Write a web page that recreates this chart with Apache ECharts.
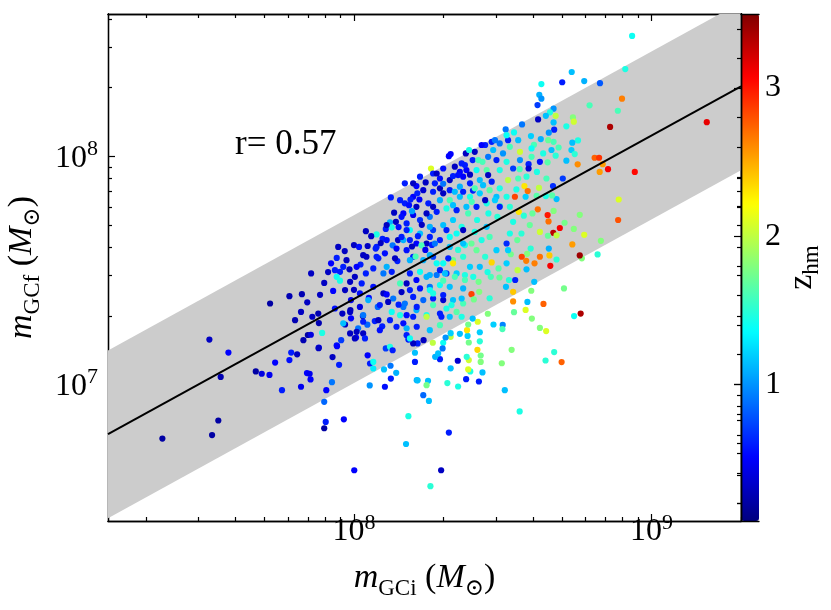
<!DOCTYPE html>
<html>
<head>
<meta charset="utf-8">
<script src="https://cdn.jsdelivr.net/npm/echarts@6.0.0/dist/echarts.min.js"></script>
<style>
  html, body { margin: 0; padding: 0; background: #fff; }
  #main { width: 831px; height: 610px; }
</style>
</head>
<body>
<div id="main"></div>
<script>
// log10 of initial GC mass, final GC mass, and half-mass redshift
const logMi = [
  7.356, 7.514, 7.523, 7.544, 7.578, 7.552, 7.670, 7.690, 7.716, 7.735,
  7.718, 7.758, 7.783, 7.789, 7.802, 7.809, 7.822, 7.822, 7.830, 7.842,
  7.845, 7.854, 7.851, 7.855, 7.860, 7.882, 7.882, 7.893, 7.907, 7.900,
  7.905, 7.900, 7.928, 7.926, 7.942, 7.950, 7.957, 7.966, 8.001, 7.970,
  7.987, 7.961, 7.988, 8.031, 8.007, 8.014, 8.037, 8.046, 8.054, 8.065,
  8.065, 8.053, 8.101, 8.104, 8.124, 8.123, 8.142, 8.183, 8.175, 8.107,
  8.121, 8.130, 8.211, 7.783, 7.825, 7.843, 7.886, 7.880, 7.881, 7.943,
  8.045, 8.070, 8.030, 7.990, 8.762, 8.740, 8.698, 8.673, 8.644, 8.646,
  8.625, 8.598, 8.577, 8.583, 8.637, 8.535, 8.538, 8.530, 8.497, 8.557,
  8.507, 8.500, 8.499, 8.469, 8.450, 8.432, 8.426, 8.426, 8.423, 8.423,
  8.416, 8.415, 8.420, 8.391, 8.384, 8.386, 8.379, 8.386, 8.382, 8.380,
  8.384, 8.377, 8.349, 8.356, 8.350, 8.314, 8.325, 8.319, 8.293, 8.257,
  8.252, 8.233, 8.249, 8.244, 8.214, 8.289, 8.273, 8.300, 8.298, 8.283,
  8.265, 8.325, 8.308, 8.325, 8.234, 8.214, 8.205, 8.205, 8.183, 8.399,
  8.706, 8.596, 8.606, 8.830, 8.819, 8.766, 8.759, 8.734, 8.774, 8.739,
  8.759, 8.671, 8.651, 8.618, 8.654, 8.708, 8.670, 8.692, 8.681, 8.652,
  8.888, 8.655, 8.681, 8.660, 8.657, 8.625, 8.607, 8.582, 8.594, 8.564,
  8.579, 8.527, 8.550, 8.580, 8.542, 8.521, 8.489, 8.460, 8.511, 8.535,
  8.456, 8.421, 8.395, 8.403, 8.419, 8.449, 8.463, 8.486, 8.513, 8.518,
  8.549, 8.563, 8.524, 8.513, 8.479, 8.441, 8.412, 8.535, 8.591, 8.625,
  8.571, 8.554, 8.600, 8.482, 8.452, 8.491, 8.414, 8.166, 8.199, 8.177,
  8.222, 8.255, 8.266, 8.300, 8.333, 8.362, 8.322, 8.289, 8.244, 8.210,
  8.177, 8.199, 8.233, 8.266, 8.300, 8.333, 8.367, 8.390, 8.345, 8.311,
  8.278, 8.244, 8.210, 8.177, 8.188, 8.222, 8.255, 8.289, 8.322, 8.367,
  8.199, 8.233, 8.266, 8.300, 8.333, 8.367, 8.166, 8.210, 8.244, 8.289,
  8.322, 8.294, 8.166, 8.177, 8.199, 8.732, 8.700, 8.774, 8.827, 8.630,
  8.623, 8.630, 8.617, 8.792, 8.887, 8.671, 8.659, 8.678, 8.645, 8.619,
  8.671, 8.736, 8.739, 8.861, 8.714, 8.673, 8.655, 8.565, 8.510, 8.538,
  8.595, 8.628, 8.671, 8.653, 8.753, 8.734, 8.605, 8.688, 8.558, 8.731,
  8.742, 8.809, 8.824, 8.836, 8.854, 8.826, 8.752, 8.678, 8.714, 8.625,
  8.651, 8.587, 8.587, 8.615, 8.702, 8.647, 8.669, 8.622, 8.573, 8.584,
  8.577, 8.614, 8.645, 8.681, 8.666, 8.541, 8.546, 8.580, 8.552, 8.518,
  8.490, 8.557, 8.535, 8.513, 8.479, 8.501, 8.468, 8.490, 8.518, 8.524,
  8.463, 8.441, 8.406, 8.432, 8.399, 8.376, 8.387, 8.319, 8.325, 8.259,
  8.241, 8.266, 8.289, 8.322, 8.356, 8.378, 8.412, 8.446, 8.451, 8.423,
  8.390, 8.356, 8.322, 8.289, 8.266, 8.233, 8.199, 8.171, 8.210, 8.250,
  8.289, 8.322, 8.356, 8.390, 8.423, 8.456, 8.490, 8.479, 8.513, 8.446,
  8.412, 8.378, 8.345, 8.311, 8.278, 8.244, 8.490, 8.524, 8.373, 8.935,
  8.912, 8.901, 9.186, 8.944, 8.890, 8.124, 8.213, 8.190, 8.220, 8.185,
  8.135, 8.160, 8.195, 8.121, 8.141, 8.150, 8.107, 8.127, 8.076, 8.058,
  8.040, 8.096, 8.110, 8.148, 8.188, 8.188, 8.228, 8.255, 8.311, 8.345,
  8.367, 8.222, 8.255, 8.000, 8.046, 8.017, 8.076, 8.195, 8.227, 7.856,
  7.942, 7.923, 7.969, 7.975, 8.022, 8.042, 8.073, 8.082, 8.104, 8.130,
  8.177, 8.166, 8.207, 8.146, 8.110, 8.065, 8.040, 8.003, 7.953, 7.913,
  7.942, 8.143, 8.240, 8.262, 8.255, 8.317, 8.350, 8.333, 7.936, 7.985,
  8.099, 8.127, 8.188, 8.222, 8.255, 8.289, 8.155, 7.987, 8.026, 8.065,
  8.099, 8.132, 8.160, 8.255, 8.300, 8.266, 8.311, 8.345, 8.244, 8.199,
  8.155, 8.127, 8.121, 8.082, 8.095, 8.031, 7.964, 8.009, 8.143, 8.177,
  8.188, 8.003, 7.900, 7.930, 7.953, 7.964, 8.009, 8.090, 8.110, 8.155,
  8.215, 8.020, 8.080, 8.150, 8.110, 8.050, 7.990, 8.000, 8.333, 8.350,
  8.367, 8.171, 8.210, 8.300, 8.390, 8.400,
  7.970, 8.020, 8.048, 8.087, 8.115, 8.171, 8.211, 7.936, 7.987, 8.031,
  8.087, 8.211, 8.255, 8.289, 8.362, 8.328, 8.362, 8.373, 8.339, 8.306,
  8.278, 8.188, 8.138, 8.076, 8.031, 7.947, 8.272, 8.322, 8.373, 8.272,
  8.300, 8.339, 8.367, 8.406, 8.434, 8.463, 8.474, 8.441, 8.396, 8.333,
  8.266, 8.418, 8.451, 8.429, 8.474, 8.513, 8.362, 8.339, 8.300, 8.278,
  8.222, 8.199, 8.558, 8.597, 8.636, 8.664, 8.597, 8.552, 8.160, 8.395,
  8.429, 8.456, 8.446, 8.406, 8.384, 8.367, 8.401, 8.373, 8.423, 8.266,
  8.300, 8.177
];
const logMf = [
  6.763, 7.197, 6.778, 6.842, 7.140, 7.033, 7.057, 7.047, 7.042, 7.096,
  7.355, 6.975, 7.107, 7.140, 7.282, 7.132, 6.990, 7.318, 7.194, 7.050,
  7.217, 7.022, 7.047, 7.218, 7.297, 7.269, 7.162, 7.226, 6.975, 6.924,
  6.836, 6.808, 7.120, 7.010, 7.172, 7.086, 7.194, 6.847, 6.624, 7.263,
  7.224, 7.311, 7.326, 7.224, 7.206, 7.246, 7.202, 7.128, 7.092, 7.099,
  7.070, 6.996, 7.066, 6.990, 7.026, 7.082, 7.051, 6.861, 6.739, 7.158,
  7.165, 7.150, 7.019, 7.387, 7.396, 7.360, 7.393, 7.311, 7.159, 7.168,
  7.262, 7.278, 7.300, 7.290, 7.311, 7.300, 7.098, 7.142, 7.105, 7.234,
  7.248, 7.289, 7.327, 7.362, 7.353, 7.364, 7.317, 7.152, 7.093, 6.882,
  6.975, 7.261, 7.243, 7.263, 7.310, 7.053, 7.099, 7.127, 7.189, 7.229,
  7.275, 7.152, 7.013, 7.057, 7.066, 7.107, 7.121, 7.184, 7.213, 7.238,
  7.263, 7.023, 7.104, 7.222, 6.991, 7.006, 7.071, 6.789, 6.624, 6.554,
  6.928, 6.953, 7.016, 6.997, 7.018, 7.111, 7.121, 7.183, 7.158, 7.136,
  7.183, 7.209, 7.206, 7.225, 7.194, 7.180, 7.099, 7.139, 7.197, 7.289,
  7.421, 7.411, 7.450, 7.630, 7.570, 7.553, 7.566, 7.614, 7.656, 7.682,
  7.744, 7.761, 7.743, 7.768, 7.715, 7.709, 7.665, 7.686, 7.654, 7.652,
  7.721, 7.596, 7.548, 7.520, 7.566, 7.560, 7.531, 7.573, 7.596, 7.560,
  7.542, 7.571, 7.501, 7.505, 7.458, 7.458, 7.469, 7.472, 7.428, 7.406,
  7.378, 7.406, 7.396, 7.373, 7.450, 7.493, 7.535, 7.509, 7.531, 7.589,
  7.633, 7.662, 7.662, 7.618, 7.589, 7.560, 7.589, 7.713, 7.699, 7.669,
  7.740, 7.757, 7.750, 7.735, 7.750, 7.782, 7.721, 7.750, 7.743, 7.706,
  7.721, 7.735, 7.677, 7.699, 7.721, 7.691, 7.647, 7.633, 7.618, 7.618,
  7.589, 7.560, 7.545, 7.560, 7.531, 7.545, 7.560, 7.516, 7.487, 7.487,
  7.480, 7.472, 7.458, 7.443, 7.414, 7.421, 7.428, 7.436, 7.428, 7.421,
  7.384, 7.370, 7.377, 7.370, 7.370, 7.355, 7.340, 7.326, 7.304, 7.311,
  7.297, 7.297, 7.268, 7.216, 7.180, 8.370, 8.325, 8.330, 8.321, 8.317,
  8.270, 8.253, 8.225, 8.224, 8.200, 8.209, 8.193, 8.178, 8.178, 8.162,
  8.149, 8.171, 8.152, 8.129, 8.132, 8.117, 8.104, 8.140, 8.118, 8.105,
  8.089, 8.076, 8.064, 8.071, 8.070, 8.060, 8.051, 8.039, 8.020, 8.028,
  8.010, 7.994, 7.994, 7.966, 7.944, 7.932, 7.965, 8.003, 7.981, 7.976,
  7.974, 7.966, 7.947, 7.932, 7.903, 7.903, 7.870, 7.862, 7.870, 7.848,
  7.823, 7.827, 7.826, 7.813, 7.829, 7.823, 7.855, 7.911, 7.903, 7.896,
  7.940, 7.944, 7.947, 7.976, 7.984, 8.013, 8.028, 8.057, 8.071, 8.042,
  8.064, 8.050, 8.020, 7.976, 7.984, 8.013, 8.028, 8.001, 8.010, 7.947,
  7.886, 7.925, 7.903, 7.896, 7.932, 7.940, 7.940, 7.940, 7.918, 7.896,
  7.882, 7.867, 7.852, 7.860, 7.845, 7.852, 7.823, 7.794, 7.779, 7.794,
  7.808, 7.808, 7.823, 7.823, 7.838, 7.852, 7.860, 7.823, 7.823, 7.794,
  7.779, 7.779, 7.764, 7.772, 7.757, 7.750, 7.779, 7.779, 7.962, 8.528,
  8.383, 8.253, 8.150, 7.932, 7.811, 7.820, 7.838, 7.811, 7.811, 7.786,
  7.753, 7.735, 7.760, 7.711, 7.713, 7.690, 7.682, 7.689, 7.658, 7.650,
  7.672, 7.639, 7.633, 7.633, 7.633, 7.677, 7.700, 7.691, 7.677, 7.662,
  7.677, 7.662, 7.647, 7.611, 7.607, 7.603, 7.603, 7.605, 7.610, 7.487,
  7.555, 7.531, 7.585, 7.545, 7.526, 7.560, 7.596, 7.553, 7.575, 7.610,
  7.677, 7.633, 7.561, 7.541, 7.516, 7.509, 7.487, 7.472, 7.494, 7.493,
  7.472, 7.596, 7.590, 7.612, 7.567, 7.553, 7.590, 7.531, 7.501, 7.505,
  7.487, 7.494, 7.487, 7.494, 7.480, 7.501, 7.443, 7.450, 7.443, 7.428,
  7.399, 7.377, 7.405, 7.414, 7.455, 7.348, 7.333, 7.318, 7.297, 7.297,
  7.304, 7.318, 7.282, 7.282, 7.255, 7.275, 7.268, 7.231, 7.253, 7.246,
  7.202, 7.202, 7.445, 7.410, 7.455, 7.516, 7.516, 7.620, 7.699, 7.808,
  7.650, 7.340, 7.340, 7.350, 7.395, 7.380, 7.370, 7.415, 7.914, 7.918,
  7.911, 7.882, 7.870, 7.880, 7.920, 7.850,
  7.414, 7.399, 7.370, 7.348, 7.362, 7.355, 7.340, 7.333, 7.318, 7.304,
  7.238, 7.253, 7.238, 7.260, 7.297, 7.348, 7.377, 7.480, 7.472, 7.487,
  7.531, 7.545, 7.553, 7.560, 7.567, 7.603, 7.618, 7.603, 7.611, 7.882,
  7.838, 7.845, 7.845, 7.860, 7.874, 7.889, 7.808, 7.808, 7.801, 7.786,
  7.779, 7.984, 7.998, 8.050, 8.071, 8.093, 7.969, 7.955, 7.947, 7.925,
  7.911, 7.882, 7.984, 7.998, 8.013, 8.028, 8.035, 8.071, 7.647, 7.618,
  7.633, 7.647, 7.691, 7.669, 7.750, 7.618, 7.472, 7.458, 7.516, 7.399,
  7.392, 7.304
];
const zhm = [
  0.2, 0.3, 0.2, 0.2, 0.5, 0.25, 0.2, 0.4, 0.45, 0.5,
  0.2, 0.6, 0.55, 0.6, 0.25, 0.3, 0.45, 0.3, 0.25, 0.5,
  0.2, 0.5, 0.45, 0.4, 0.3, 0.25, 0.45, 1.45, 0.5, 0.85,
  0.6, 0.2, 0.3, 0.9, 0.6, 0.6, 0.7, 0.5, 0.5, 0.3,
  0.3, 0.3, 0.25, 0.3, 0.5, 0.9, 0.6, 0.5, 0.6, 1.4,
  1.3, 1.0, 1.15, 0.55, 0.6, 0.9, 1.1, 1.45, 1.15, 0.7,
  1.45, 0.6, 1.1, 0.25, 0.25, 0.3, 0.3, 0.25, 0.3, 0.5,
  0.85, 0.6, 0.3, 0.5, 3.35, 1.4, 2.75, 1.5, 1.5, 2.1,
  1.8, 1.8, 2.1, 1.15, 2.75, 2.6, 1.7, 1.8, 1.8, 1.45,
  1.15, 0.95, 1.6, 1.2, 1.8, 1.15, 1.8, 1.75, 1.5, 1.2,
  2.1, 2.35, 0.6, 1.45, 2.1, 2.05, 1.5, 1.75, 1.2, 2.3,
  1.75, 0.6, 0.35, 1.15, 1.45, 1.5, 1.15, 0.6, 0.3, 1.5,
  1.15, 0.85, 1.15, 1.75, 1.15, 0.6, 1.1, 1.4, 0.9, 1.15,
  2.0, 2.0, 1.0, 1.2, 0.3, 0.6, 0.6, 1.15, 0.6, 1.15,
  1.75, 1.8, 1.15, 1.8, 1.5, 1.8, 3.4, 2.55, 2.1, 1.8,
  1.8, 1.8, 3.0, 2.7, 2.7, 1.75, 3.3, 3.1, 2.0, 1.7,
  2.8, 1.1, 1.5, 3.1, 2.4, 2.7, 2.65, 1.8, 1.5, 2.85,
  2.65, 1.75, 2.0, 1.15, 0.6, 1.5, 1.7, 1.6, 1.15, 2.4,
  1.5, 1.8, 2.85, 1.75, 1.75, 1.45, 2.35, 1.65, 1.2, 1.2,
  1.7, 1.5, 1.45, 0.65, 1.2, 1.5, 1.7, 1.45, 1.7, 2.05,
  1.5, 2.3, 1.7, 1.5, 1.45, 1.6, 1.45, 0.5, 0.45, 0.6,
  0.65, 0.9, 0.7, 1.15, 1.2, 1.45, 1.4, 0.6, 0.3, 0.5,
  0.55, 0.6, 1.1, 0.7, 1.4, 1.7, 1.5, 1.2, 1.2, 0.7,
  0.9, 1.1, 0.5, 0.3, 0.6, 0.55, 0.9, 1.4, 1.15, 1.1,
  0.6, 0.85, 0.6, 0.35, 1.15, 1.6, 0.9, 1.1, 1.45, 0.6,
  1.15, 0.6, 0.55, 0.6, 0.3, 1.15, 0.6, 1.1, 0.8, 1.4,
  1.1, 1.0, 0.7, 1.6, 1.6, 1.0, 1.45, 2.0, 1.15, 0.3,
  1.15, 1.8, 2.05, 3.35, 1.45, 0.6, 1.0, 0.9, 0.9, 1.4,
  1.2, 1.1, 1.6, 1.7, 1.45, 1.15, 1.6, 1.6, 2.05, 1.2,
  1.5, 2.75, 2.9, 2.55, 3.1, 2.55, 2.6, 1.5, 1.15, 0.55,
  1.65, 0.6, 0.35, 1.45, 0.7, 1.6, 0.65, 2.0, 2.3, 2.7,
  1.2, 1.65, 1.45, 1.15, 1.65, 2.85, 1.45, 1.5, 1.6, 2.0,
  1.45, 1.6, 0.7, 1.45, 0.6, 1.0, 1.15, 0.9, 0.6, 1.6,
  0.6, 0.6, 0.3, 1.6, 0.6, 0.3, 1.45, 0.5, 0.5, 2.1,
  0.3, 0.6, 0.55, 0.3, 0.5, 0.5, 1.4, 1.65, 0.3, 1.15,
  0.6, 1.1, 0.6, 0.3, 0.6, 0.35, 0.5, 0.6, 0.3, 0.6,
  1.1, 1.6, 1.15, 1.45, 1.2, 1.65, 1.45, 1.15, 1.45, 1.45,
  0.6, 1.15, 0.6, 1.45, 0.6, 0.3, 0.6, 1.5, 0.6, 1.4,
  1.45, 2.65, 3.15, 3.05, 2.1, 0.6, 0.6, 0.6, 0.5, 0.55,
  0.3, 0.55, 1.05, 1.1, 0.3, 0.55, 0.6, 1.45, 1.45, 0.3,
  0.3, 0.6, 0.55, 0.3, 0.6, 1.4, 0.3, 1.1, 0.6, 1.4,
  0.3, 1.15, 0.6, 0.3, 0.3, 0.55, 0.6, 0.3, 1.6, 0.3,
  0.6, 0.5, 0.3, 0.3, 0.6, 0.3, 0.6, 0.6, 0.55, 0.9,
  0.6, 1.1, 1.6, 0.6, 1.1, 0.6, 0.6, 0.3, 0.6, 0.3,
  1.4, 0.5, 0.45, 0.6, 1.1, 0.6, 1.5, 2.3, 0.6, 0.3,
  0.9, 0.6, 0.6, 1.4, 1.1, 0.6, 1.6, 0.3, 0.6, 0.55,
  0.3, 0.9, 0.3, 1.4, 1.6, 1.6, 1.45, 1.65, 2.0, 0.6,
  1.45, 1.4, 0.6, 0.3, 0.6, 0.6, 1.15, 0.3, 0.6, 1.1,
  1.4, 0.3, 0.3, 0.5, 1.45, 0.6, 0.5, 0.3, 0.3, 0.6,
  0.6, 0.4, 0.85, 0.6, 0.5, 0.55, 0.45, 0.3, 0.6, 0.55,
  0.5, 0.6, 0.5, 0.9, 0.3, 0.6,
  0.3, 0.55, 1.1, 0.6, 0.3, 0.9, 0.6, 0.55, 0.3, 0.9,
  0.55, 0.6, 1.15, 1.6, 1.45, 1.45, 1.15, 1.45, 1.6, 1.15,
  1.4, 1.1, 0.3, 0.6, 0.3, 0.3, 0.9, 1.15, 1.45, 0.6,
  0.3, 1.15, 0.6, 1.6, 1.15, 0.6, 1.2, 0.3, 1.6, 1.15,
  0.3, 1.6, 0.9, 0.5, 0.9, 1.4, 0.6, 0.3, 0.55, 0.3,
  0.6, 0.3, 1.0, 1.6, 1.45, 1.15, 1.4, 1.15, 0.6, 1.7,
  1.45, 1.6, 1.15, 1.45, 1.6, 1.15, 1.45, 1.6, 1.15, 1.45,
  0.6, 0.55
];

// best-fit line and its scatter band (ends at the plot edges)
const fitX = [1.49e7, 2.0e9];
const fitY = [6.05e6, 2.03e8];
const bandLow = [2.59e6, 8.7e7];
const bandHigh = [1.41e7, 4.74e8];

// axis ranges and ticks
const xRange = [1.49e7, 2.0e9];
const yRange = [2.52e6, 4.21e8];
const zRange = [0.077, 3.5];
const xMajor = [1e8, 1e9];
const xMinor = [2e7, 3e7, 4e7, 5e7, 6e7, 7e7, 8e7, 9e7, 2e8, 3e8, 4e8, 5e8, 6e8, 7e8, 8e8, 9e8, 2e9];
const yMajor = [1e7, 1e8];
const yMinor = [3e6, 4e6, 5e6, 6e6, 7e6, 8e6, 9e6, 2e7, 3e7, 4e7, 5e7, 6e7, 7e7, 8e7, 9e7, 2e8, 3e8, 4e8];
const zMajor = [1, 2, 3];
const zMinor = [0.2, 0.4, 0.6, 0.8, 1.2, 1.4, 1.6, 1.8, 2.2, 2.4, 2.6, 2.8, 3.2, 3.4];
const jet = ['#00007f', '#0000ff', '#0080ff', '#00ffff', '#80ff80', '#ffff00', '#ff8000', '#ff0000', '#800000'];

const serif = "'Liberation Serif', 'DejaVu Serif', serif";
const rich = {
  b: { fontFamily: serif, fontSize: 32, color: '#000', verticalAlign: 'bottom' },
  p: { fontFamily: serif, fontSize: 22, color: '#000', verticalAlign: 'top', padding: [0, 0, 14, 0] },
  i: { fontFamily: serif, fontSize: 34, fontStyle: 'italic', color: '#000', verticalAlign: 'top' },
  r: { fontFamily: serif, fontSize: 34, color: '#000', verticalAlign: 'top' },
  s: { fontFamily: serif, fontSize: 23, color: '#000', verticalAlign: 'bottom', padding: [16, 0, 0, 0] }
};

function powLabel(v) {
  return '{b|10}{p|' + Math.round(Math.log10(v)) + '}';
}

function frameAxis(extra) {
  const base = {
    axisLine: { show: true, lineStyle: { color: '#000', width: 1.3 } },
    axisTick: { show: false },
    axisLabel: { show: false },
    splitLine: { show: false }
  };
  return Object.assign(base, extra);
}

function tickAxis(values, len, extra) {
  return frameAxis(Object.assign({
    axisTick: { show: true, inside: true, length: len, customValues: values, lineStyle: { color: '#000', width: 1.2 } }
  }, extra));
}

const chart = echarts.init(document.getElementById('main'), null, { renderer: 'canvas' });

const points = logMi.map((v, i) => [Math.pow(10, v), Math.pow(10, logMf[i]), zhm[i]]);

const logX = { type: 'log', logBase: 10, min: xRange[0], max: xRange[1], gridIndex: 0 };
const logY = { type: 'log', logBase: 10, min: yRange[0], max: yRange[1], gridIndex: 0 };

const option = {
  backgroundColor: '#fff',
  animation: false,
  grid: [
    { left: 108, top: 14, width: 633, height: 507, containLabel: false, outerBoundsMode: 'none' },
    { left: 741, top: 14, width: 18, height: 507, containLabel: false, outerBoundsMode: 'none' }
  ],
  xAxis: [
    tickAxis(xMajor, 7, Object.assign({}, logX, {
      position: 'bottom',
      axisLabel: { show: true, customValues: xMajor, margin: -9, formatter: powLabel, rich: rich },
      name: '{i|m}{s|GCi}{r| (}{i|M}{s|⊙}{r|)}',
      nameLocation: 'middle',
      nameGap: 40,
      nameTextStyle: { rich: rich }
    })),
    tickAxis(xMinor, 4, Object.assign({}, logX, { position: 'bottom' })),
    tickAxis(xMajor, 7, Object.assign({}, logX, { position: 'top' })),
    tickAxis(xMinor, 4, Object.assign({}, logX, { position: 'top' })),
    frameAxis({ type: 'value', gridIndex: 1, min: 0, max: 1, position: 'bottom', z: 10 }),
    frameAxis({ type: 'value', gridIndex: 1, min: 0, max: 1, position: 'top', z: 10 })
  ],
  yAxis: [
    tickAxis(yMajor, 7, Object.assign({}, logY, {
      position: 'left',
      axisLabel: { show: true, customValues: yMajor, margin: 10, formatter: powLabel, rich: rich },
      name: '{i|m}{s|GCf}{r| (}{i|M}{s|⊙}{r|)}',
      nameLocation: 'middle',
      nameRotate: 90,
      nameGap: 58,
      nameTextStyle: { rich: rich }
    })),
    tickAxis(yMinor, 4, Object.assign({}, logY, { position: 'left' })),
    tickAxis(yMajor, 7, Object.assign({}, logY, { position: 'right' })),
    tickAxis(yMinor, 4, Object.assign({}, logY, { position: 'right' })),
    // colour bar frame and ticks
    tickAxis(zMajor, 7, {
      type: 'value', gridIndex: 1, min: zRange[0], max: zRange[1], position: 'right', z: 10,
      axisLabel: { show: true, customValues: zMajor, margin: 6, fontFamily: serif, fontSize: 32, color: '#000' },
      name: '{r|z}{s|hm}',
      nameLocation: 'middle',
      nameRotate: 90,
      nameGap: 25,
      nameTextStyle: { rich: rich }
    }),
    tickAxis(zMinor, 4, { type: 'value', gridIndex: 1, min: zRange[0], max: zRange[1], position: 'right', z: 10 }),
    frameAxis({ type: 'value', gridIndex: 1, min: zRange[0], max: zRange[1], position: 'left', z: 10 })
  ],
  visualMap: {
    type: 'continuous',
    min: zRange[0],
    max: zRange[1],
    dimension: 2,
    seriesIndex: 1,
    calculable: false,
    orient: 'vertical',
    left: 741,
    top: 14,
    padding: 0,
    itemWidth: 18,
    itemHeight: 507,
    inRange: { color: jet }
  },
  graphic: [
    {
      type: 'text', x: 235, y: 145,
      style: { text: 'r= 0.57', font: "35px 'Liberation Serif'", fill: '#000', verticalAlign: 'middle' }
    }
  ],
  series: [
    {
      // grey scatter band around the fit
      type: 'custom',
      xAxisIndex: 0, yAxisIndex: 0,
      clip: true,
      silent: true,
      data: [[fitX[0], fitY[0]]],
      renderItem: function (params, api) {
        const pts = [
          api.coord([fitX[0], bandHigh[0]]),
          api.coord([fitX[1], bandHigh[1]]),
          api.coord([fitX[1], bandLow[1]]),
          api.coord([fitX[0], bandLow[0]])
        ];
        return { type: 'polygon', shape: { points: pts }, style: { fill: '#cccccc' } };
      }
    },
    {
      type: 'scatter',
      xAxisIndex: 0, yAxisIndex: 0,
      symbolSize: 6.2,
      data: points,
      itemStyle: { opacity: 1 }
    },
    {
      type: 'line',
      xAxisIndex: 0, yAxisIndex: 0,
      symbol: 'none',
      data: [[fitX[0], fitY[0]], [fitX[1], fitY[1]]],
      lineStyle: { color: '#000', width: 2 }
    }
  ]
};

chart.setOption(option);
</script>
</body>
</html>
